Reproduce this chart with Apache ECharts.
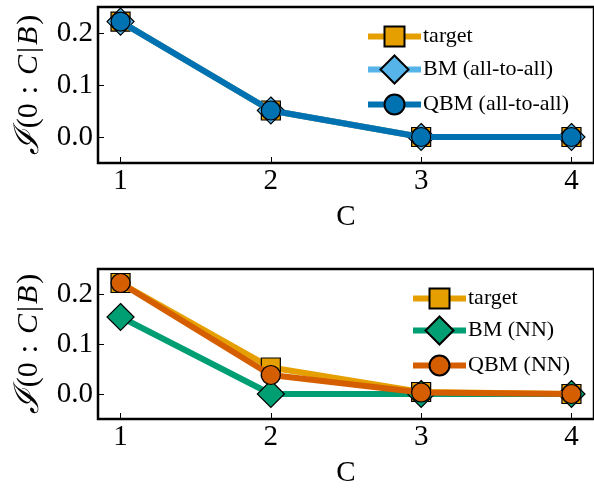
<!DOCTYPE html>
<html><head><meta charset="utf-8">
<script src="https://cdn.jsdelivr.net/npm/echarts@6/dist/echarts.min.js"></script>
<style>html,body{margin:0;padding:0;background:#fff}#c{width:594px;height:489px}</style>
</head><body><div id="c"></div>
<script>
const cats = [1, 2, 3, 4];
const xTicks = [1, 2, 3, 4];
const yTicks = [0, 0.1, 0.2];
const targetTop = [0.222, 0.051, 0.0, 0.0];
const bmTop = [0.222, 0.051, 0.0, 0.0];
const qbmTop = [0.222, 0.051, 0.0, 0.0];
const targetBot = [0.222, 0.053, 0.004, 0.0];
const bmNN = [0.154, 0.0, 0.0, 0.0];
const qbmNN = [0.222, 0.038, 0.003, 0.0];
const namesTop = ['target', 'BM (all-to-all)', 'QBM (all-to-all)'];
const namesBot = ['target ', 'BM (NN)', 'QBM (NN)'];

const FONT = 'Liberation Serif';
const pairs = a => cats.map((c, i) => [c, a[i]]);

function xAxis(gi) {
  return {
    type: 'value', gridIndex: gi, min: 0.85, max: 4.15,
    name: 'C', nameLocation: 'middle', nameGap: 40,
    nameTextStyle: {fontFamily: FONT, fontSize: 29, color: '#000'},
    axisLine: {show: false, onZero: false},
    splitLine: {show: false},
    axisTick: {show: true, inside: true, length: 6, customValues: xTicks, lineStyle: {color: '#000', width: 1}},
    axisLabel: {customValues: xTicks, fontFamily: FONT, fontSize: 29, color: '#000', margin: 4, formatter: v => String(v)}
  };
}
function yAxis(gi) {
  return {
    type: 'value', gridIndex: gi, min: -0.05, max: 0.25,
    name: '{s|ℐ}{n|(0}{c|:}{i|C}{n||}{i|B}{n|)}', nameLocation: 'middle', nameGap: 52, nameRotate: 90,
    nameTextStyle: {fontFamily: FONT, fontSize: 30, color: '#000', rich: {
      s: {fontFamily: FONT, fontSize: 34, fontStyle: 'italic', color: '#000', padding: [0, 2, 0, 0]},
      n: {fontFamily: FONT, fontSize: 30, color: '#000'},
      c: {fontFamily: FONT, fontSize: 30, color: '#000', padding: [0, 9, 0, 9]},
      i: {fontFamily: FONT, fontSize: 30, fontStyle: 'italic', color: '#000', padding: [0, 2, 0, 2]}
    }},
    axisLine: {show: false, onZero: false},
    splitLine: {show: false},
    axisTick: {show: true, inside: true, length: 6, customValues: yTicks, lineStyle: {color: '#000', width: 1}},
    axisLabel: {customValues: yTicks, fontFamily: FONT, fontSize: 29, color: '#000', margin: 5, formatter: v => v.toFixed(1)}
  };
}
function line(name, data, color, symbol, size, gi, z) {
  return {
    type: 'line', name, data: pairs(data), xAxisIndex: gi, yAxisIndex: gi,
    symbol, symbolSize: size, z,
    lineStyle: {color, width: 6}, itemStyle: {color, borderColor: '#000', borderWidth: 1.2},
    emphasis: {disabled: true}, animation: false
  };
}
function leg(name, left, cy, h) {
  return {data: [name], orient: 'vertical', left, top: cy - h / 2, itemWidth: 53, itemHeight: h, itemGap: 0,
    padding: 0, lineStyle: {width: 6}, selectedMode: false,
    textStyle: {fontFamily: FONT, fontSize: 22, color: '#000', padding: [0, 0, 0, -3]}};
}
const chart = echarts.init(document.getElementById('c'), null, {renderer: 'canvas'});
chart.setOption({
  animation: false,
  grid: [
    {left: 98, top: 7, width: 498, height: 156, show: true, borderColor: '#000', borderWidth: 2.5, backgroundColor: 'transparent'},
    {left: 98, top: 269, width: 498, height: 155, show: true, borderColor: '#000', borderWidth: 2.5, backgroundColor: 'transparent'}
  ],
  xAxis: [xAxis(0), xAxis(1)],
  yAxis: [yAxis(0), yAxis(1)],
  legend: [
    leg(namesTop[0], 365, 38, 25),
    leg(namesTop[1], 365, 72, 35),
    leg(namesTop[2], 365, 106, 25),
    leg(namesBot[0], 410, 300, 25),
    leg(namesBot[1], 410, 333, 35),
    leg(namesBot[2], 410, 367, 25)
  ],
  series: [
    line(namesTop[0], targetTop, '#E69F00', 'rect', 19, 0, 2),
    line(namesTop[1], bmTop, '#56B4E9', 'diamond', 27, 0, 3),
    line(namesTop[2], qbmTop, '#0072B2', 'circle', 19, 0, 4),
    line(namesBot[0], targetBot, '#E69F00', 'rect', 19, 1, 2),
    line(namesBot[1], bmNN, '#009E73', 'diamond', 27, 1, 3),
    line(namesBot[2], qbmNN, '#D55E00', 'circle', 19, 1, 4)
  ]
});
</script></body></html>
